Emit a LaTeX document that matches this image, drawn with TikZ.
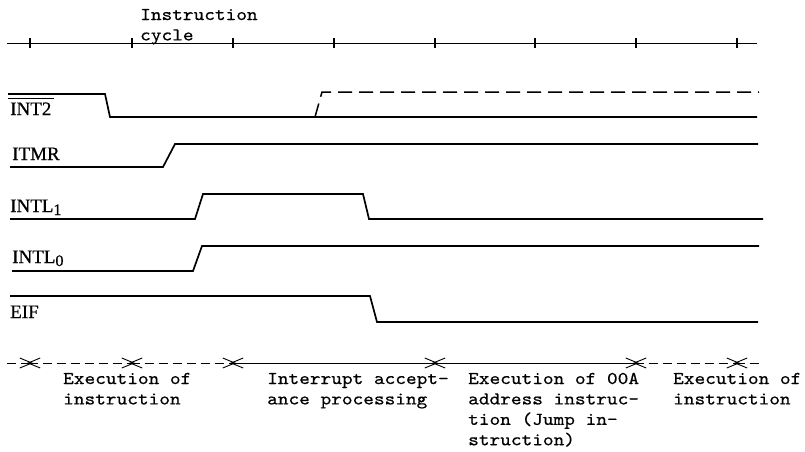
\documentclass[tikz,border=0pt]{standalone}
\usepackage{fontspec}
\setmonofont{lmmono10-regular.otf}[FakeStretch=1.13,FakeBold=0.45]
\newfontfamily\lblfont{Liberation Serif}[FakeBold=0.6]
\usetikzlibrary{arrows.meta}
\newcommand{\mlines}[1]{\begin{tabular}[t]{@{}l@{}}#1\end{tabular}}
\begin{document}
\begin{tikzpicture}[x=1pt,y=-1pt,
  sig/.style={line width=1.7pt},
  sigdash/.style={line width=1.5pt,dash pattern=on 14pt off 7pt},
  axisline/.style={line width=0.9pt},
  tickmark/.style={line width=1.1pt},
  dimsol/.style={line width=0.9pt},
  dimdash/.style={line width=0.9pt,dash pattern=on 9pt off 5pt},
  >={Straight Barb[length=12pt,width=10pt]},
  txt/.style={font=\ttfamily\fontsize{18}{20.4}\selectfont,inner sep=0pt,anchor=base west},
  lbl/.style={font=\lblfont\fontsize{19}{21}\selectfont,inner sep=0pt,anchor=base west}]
\useasboundingbox (0,0) rectangle (805,451);

% top axis
\node[txt] (ic) at (140,20) {\mlines{Instruction\\cycle}};
\draw[axisline] (7,43) -- (757,43);
\foreach \x in {30,132,233,334,435,535,636,737}
  \draw[tickmark] (\x,38) -- (\x,48);

% signals
\draw[sig] (8,94) -- (105,94) -- (110,117) -- (757,117);
\draw[sigdash] (315,117) -- (322,92) -- (759,92);
\draw[sig] (10,167) -- (163,167) -- (175,144) -- (758,144);
\draw[sig] (10,219) -- (195,219) -- (203,194) -- (363,194) -- (369,219) -- (763,219);
\draw[sig] (12,271) -- (193,271) -- (202,246) -- (759,246);
\draw[sig] (10,296) -- (370,296) -- (377,322) -- (758,322);

% labels
\node[lbl] (lint2) at (10,115) {INT2};
\draw[line width=0.9pt] ([xshift=-2pt,yshift=17pt]lint2.base west) -- ([xshift=2pt,yshift=17pt]lint2.base east);
\node[lbl] (litmr) at (12,160) {ITMR};
\node[lbl] (lintl1) at (10,212) {INTL\raisebox{-3pt}{\fontsize{16}{16}\selectfont 1}};
\node[lbl] (lintl0) at (12,263) {INTL\raisebox{-3pt}{\fontsize{16}{16}\selectfont 0}};
\node[lbl] (leif) at (10,318) {EIF};

% bottom phase line
\coordinate (d0) at (7,363);
\coordinate (p1) at (30,363);
\coordinate (p2) at (132,363);
\coordinate (p3) at (233,363);
\coordinate (p4) at (435,363);
\coordinate (p5) at (636,363);
\coordinate (p6) at (737,363);
\coordinate (d7) at (760,363);
\draw[dimdash,->] (d0) -- ([xshift=3pt]p1);
\draw[dimdash,<->] ([xshift=-3pt]p1) -- ([xshift=3pt]p2);
\draw[dimdash,<->] ([xshift=-3pt]p2) -- ([xshift=3pt]p3);
\draw[dimsol,<->] ([xshift=-3pt]p3) -- ([xshift=3pt]p4);
\draw[dimsol,<->] ([xshift=-3pt]p4) -- ([xshift=3pt]p5);
\draw[dimdash,<->] ([xshift=-3pt]p5) -- ([xshift=3pt]p6);
\draw[dimdash,<-] ([xshift=-3pt]p6) -- (d7);

% phase texts
\node[txt] (t1) at (63,384) {\mlines{Execution of\\instruction}};
\node[txt] (t2) at (267,384) {\mlines{Interrupt accept-\\ance processing}};
\node[txt] (t3) at (468,384) {\mlines{Execution of 00A\\address instruc-\\tion (Jump in-\\struction)}};
\node[txt] (t4) at (673,384) {\mlines{Execution of\\instruction}};
\end{tikzpicture}
\end{document}
